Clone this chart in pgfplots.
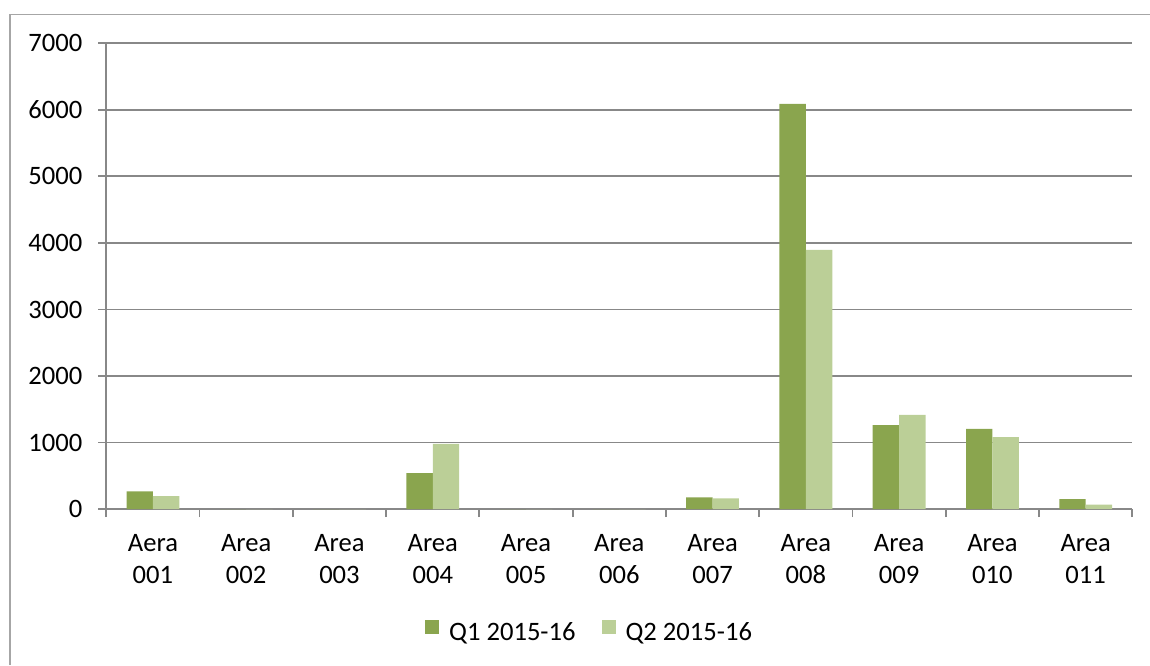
\documentclass[border=0pt]{standalone}
\usepackage{pgfplots}
\pgfplotsset{compat=1.18}
\usepackage{fontspec}
\setmainfont{Carlito}

\definecolor{qone}{HTML}{8AA54E}
\definecolor{qtwo}{HTML}{BBCF97}
\definecolor{axgray}{HTML}{888888}
\definecolor{framegray}{HTML}{A6A6A6}

\begin{document}
\begin{tikzpicture}
\useasboundingbox (-53.15pt,-78pt) rectangle (521.85pt,254.55pt);
\draw[framegray, line width=0.7pt] (-48.15pt,-78pt) -- (-48.15pt,247.4pt) -- (521.85pt,247.4pt);
\begin{axis}[
    scale only axis,
    width=513pt, height=232.9pt,
    font=\fontsize{13.3}{16.3}\selectfont,
    /pgf/number format/assume math mode=true,
    xmin=-0.5, xmax=10.5,
    ymin=0, ymax=7000,
    axis lines*=left,
    axis line style={axgray, line width=0.9pt},
    ytick={0,1000,...,7000},
    yticklabel style={/pgf/number format/1000 sep={}, xshift=-4.5pt},
    ymajorgrids,
    major grid style={axgray, line width=0.9pt},
    xtick={0,...,10},
    xticklabels={{Aera\\001},{Area\\002},{Area\\003},{Area\\004},{Area\\005},{Area\\006},{Area\\007},{Area\\008},{Area\\009},{Area\\010},{Area\\011}},
    xticklabel style={align=center, yshift=-5pt},
    minor xtick={-0.5,0.5,...,10.5},
    tick align=outside,
    major tick length=4pt,
    minor tick length=4pt,
    x tick style={draw=none},
    minor x tick style={draw=axgray, line width=0.9pt},
    y tick style={axgray, line width=0.9pt},
    ybar=0pt,
    bar width=0.283,
    legend columns=2,
    legend style={at={(0.472,-0.266)}, anchor=center, draw=none,
        /tikz/every even column/.append style={column sep=11pt}},
    legend image code/.code={\fill[#1] (0pt,-0.5pt) rectangle (7pt,6.5pt); \path (10pt,0pt);},
]
\addplot[fill=qone, draw=none, bar shift=-0.1415] coordinates {
    (0,265) (1,0) (2,0) (3,541) (4,0) (5,0) (6,175) (7,6090) (8,1263) (9,1207) (10,150)
};
\addplot[fill=qtwo, draw=none, bar shift=0.1415] coordinates {
    (0,195) (1,0) (2,0) (3,980) (4,0) (5,0) (6,160) (7,3895) (8,1418) (9,1083) (10,69)
};
\legend{Q1 2015-16, Q2 2015-16}
\end{axis}
\end{tikzpicture}
\end{document}
